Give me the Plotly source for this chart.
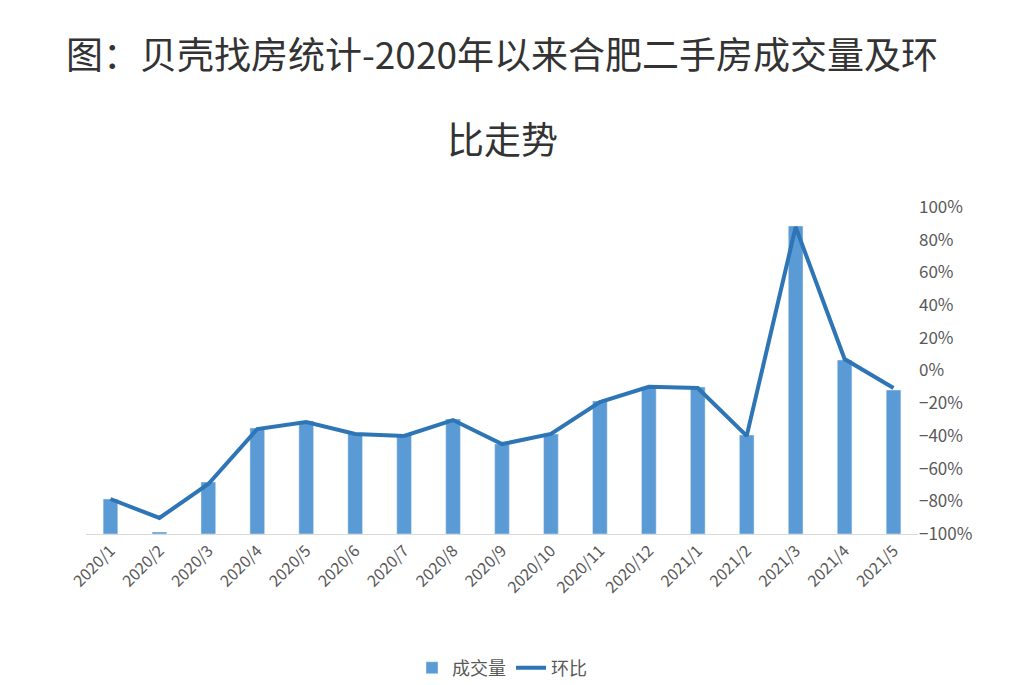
import plotly.graph_objects as go

months = ["2020/1","2020/2","2020/3","2020/4","2020/5","2020/6","2020/7","2020/8","2020/9",
          "2020/10","2020/11","2020/12","2021/1","2021/2","2021/3","2021/4","2021/5"]
volume = [350, 20, 520, 1060, 1130, 1010, 990, 1150, 900, 1000, 1330, 1470, 1470, 990, 3080, 1740, 1440]
mom = [-78.6, -90.2, -69.4, -35.8, -31.5, -38.8, -40.0, -30.3, -45.0, -38.8, -19.3, -10.0, -10.7, -40.0, 87.8, 7.0, -10.7]

fig = go.Figure()
fig.add_trace(go.Bar(x=months, y=volume, name="成交量", marker_color="#5b9bd5", yaxis="y"))
fig.add_trace(go.Scatter(x=months, y=mom, name="环比", mode="lines",
                         line=dict(color="#2e75b6", width=4), yaxis="y2"))

fig.update_layout(
    width=1023, height=685,
    margin=dict(l=78, r=113, t=199, b=159, autoexpand=False),
    paper_bgcolor="white", plot_bgcolor="white",
    font=dict(family="Noto Sans CJK SC", color="#595959"),
    bargap=0.7,
    xaxis=dict(tickangle=-45, showline=True, linecolor="#d9d9d9", linewidth=1, automargin=False,
               tickfont=dict(size=16, color="#595959"), ticks=""),
    yaxis=dict(range=[0, 3270], visible=False, automargin=False),
    yaxis2=dict(overlaying="y", side="right", range=[-100, 100], dtick=20, automargin=False,
                ticksuffix="%", showgrid=False, zeroline=False,
                tickfont=dict(size=17, color="#595959")),
    legend=dict(orientation="h", x=0.5, xanchor="center", y=-0.41, yanchor="middle",
                font=dict(size=18, color="#595959")),
)
fig.add_annotation(text="图：贝壳找房统计-2020年以来合肥二手房成交量及环", xref="paper", yref="paper",
                   x=0.5, y=1 + (199 - 45) / 327, showarrow=False, xanchor="center", yanchor="middle",
                   font=dict(size=37, color="#333333"))
fig.add_annotation(text="比走势", xref="paper", yref="paper",
                   x=0.5, y=1 + (199 - 130) / 327, showarrow=False, xanchor="center", yanchor="middle",
                   font=dict(size=37, color="#333333"))
fig.write_html("out.html")
